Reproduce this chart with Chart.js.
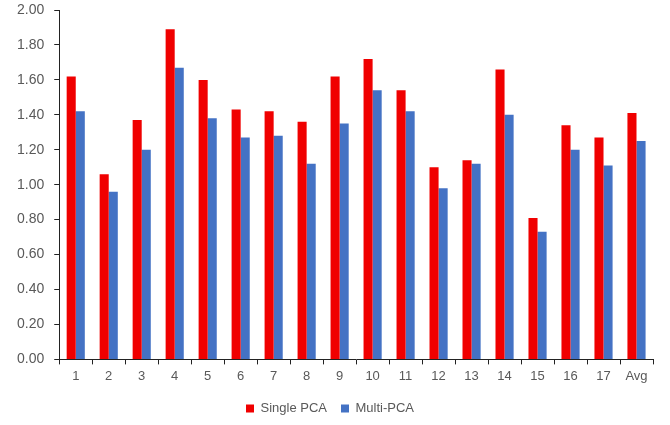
<!DOCTYPE html>
<html>
<head>
<meta charset="utf-8">
<script src="https://cdn.jsdelivr.net/npm/chart.js@4/dist/chart.umd.min.js"></script>
<style>
  html, body { margin: 0; padding: 0; background: #fff; }
  #wrap { width: 670px; height: 425px; }
</style>
</head>
<body>
<div id="wrap"><canvas id="pcaChart"></canvas></div>
<script>
const categories = ['1', '2', '3', '4', '5', '6', '7', '8', '9', '10', '11', '12', '13', '14', '15', '16', '17', 'Avg'];
const singlePca = [1.62, 1.06, 1.37, 1.89, 1.60, 1.43, 1.42, 1.36, 1.62, 1.72, 1.54, 1.10, 1.14, 1.66, 0.81, 1.34, 1.27, 1.41];
const multiPca = [1.42, 0.96, 1.20, 1.67, 1.38, 1.27, 1.28, 1.12, 1.35, 1.54, 1.42, 0.98, 1.12, 1.40, 0.73, 1.20, 1.11, 1.25];

Chart.defaults.font.family = '"Liberation Sans", Arial, sans-serif';
Chart.defaults.font.size = 13;
Chart.defaults.color = '#595959';

new Chart(document.getElementById('pcaChart'), {
    type: 'bar',
    data: {
        labels: categories,
        datasets: [
            {
                label: 'Single PCA',
                data: singlePca,
                backgroundColor: '#f00000',
                barPercentage: 1.0,
                categoryPercentage: 0.55
            },
            {
                label: 'Multi-PCA',
                data: multiPca,
                backgroundColor: '#4472c4',
                barPercentage: 1.0,
                categoryPercentage: 0.55
            }
        ]
    },
    options: {
        responsive: true,
        maintainAspectRatio: false,
        animation: false,
        layout: { padding: { top: 10, right: 17, left: 7, bottom: 0 } },
        plugins: {
            legend: {
                position: 'bottom',
                labels: {
                    boxWidth: 8,
                    boxHeight: 8,
                    padding: 14,
                    font: { size: 13 }
                }
            },
            tooltip: { enabled: false }
        },
        scales: {
            x: {
                grid: {
                    drawOnChartArea: false,
                    drawTicks: true,
                    tickLength: 5,
                    color: '#222'
                },
                border: { color: '#222', width: 1 },
                ticks: { padding: 4, font: { size: 13 } }
            },
            y: {
                min: 0,
                max: 2,
                grid: {
                    drawOnChartArea: false,
                    drawTicks: true,
                    tickLength: 5,
                    color: '#222'
                },
                border: { color: '#222', width: 1 },
                ticks: {
                    stepSize: 0.2,
                    padding: 10,
                    font: { size: 14 },
                    callback: (v) => v.toFixed(2)
                },
                afterFit: (scale) => {
                    // let the top label sit close to the canvas edge
                    scale.paddingTop = 0;
                }
            }
        }
    }
});
</script>
</body>
</html>
